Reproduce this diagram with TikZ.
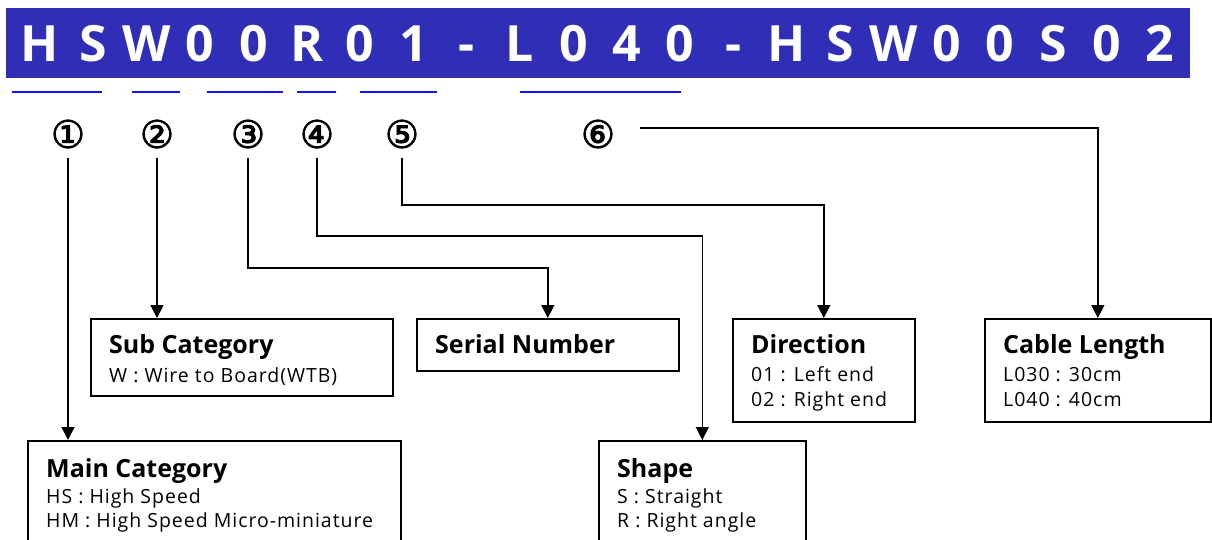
\documentclass[tikz,border=0pt]{standalone}
\usepackage{fontspec}
\setmainfont{Open Sans}
\newfontfamily\bodyfont{Open Sans}[LetterSpace=5]
\newfontfamily\circfont{DejaVu Sans}[FakeBold=2]
\usetikzlibrary{arrows.meta}
\definecolor{headblue}{RGB}{48,46,182}
\definecolor{lineblue}{RGB}{20,20,235}
\tikzset{
  box/.style={draw=black, line width=1.6pt, anchor=north west, inner sep=0pt},
  ttl/.style={font=\fontsize{25}{28}\selectfont\bfseries, anchor=base west, inner sep=0pt},
  bdy/.style={font=\bodyfont\fontsize{19.5}{24}\selectfont, anchor=base west, inner sep=0pt, align=left},
  num/.style={font=\circfont\fontsize{38}{38}\selectfont, inner sep=0pt},
  hch/.style={font=\fontsize{50}{50}\selectfont\bfseries, text=white, inner sep=0pt, anchor=base},
  arr/.style={line width=1.5pt, -{Triangle[length=13pt,width=13pt]}},
  uline/.style={lineblue, line width=2.8pt}
}
\begin{document}
\begin{tikzpicture}[x=1pt,y=-1pt]
\useasboundingbox (0,0) rectangle (1212,540);
\clip (0,0) rectangle (1212,540);
% header
\fill[headblue] (6,8) rectangle (1190,78);
\foreach \c [count=\i] in {H,S,W,0,0,R,0,1,-,L,0,4,0,-,H,S,W,0,0,S,0,2}{
  \node[hch] (h\i) at ({40+53.33*(\i-1)},62) {\c};
}
% underlines
\draw[uline] (12,92) -- (102,92);
\draw[uline] (132,92) -- (180,92);
\draw[uline] (207,92) -- (283,92);
\draw[uline] (297,92) -- (336,92);
\draw[uline] (360,92) -- (437,92);
\draw[uline] (520,92) -- (681,92);
% circled numbers
\node[num] (n1) at (68,134) {①};
\node[num] (n2) at (157,134) {②};
\node[num] (n3) at (248,134) {③};
\node[num] (n4) at (317,134) {④};
\node[num] (n5) at (402,134) {⑤};
\node[num] (n6) at (598,134) {⑥};
% boxes
\node[box, minimum width=302pt, minimum height=77pt] (sub) at (90,318) {};
\node[ttl] at ([shift={(19pt,-35pt)}]sub.north west) {Sub Category};
\node[bdy] at ([shift={(19pt,-64pt)}]sub.north west) {W : Wire to Board(WTB)};

\node[box, minimum width=262pt, minimum height=52pt] (ser) at (416,318) {};
\node[ttl] at ([shift={(19pt,-35pt)}]ser.north west) {Serial Number};

\node[box, minimum width=182pt, minimum height=103pt] (dir) at (732,318) {};
\node[ttl] at ([shift={(19pt,-35pt)}]dir.north west) {Direction};
\node[bdy] at ([shift={(19pt,-63pt)}]dir.north west) {01 : Left end};
\node[bdy] at ([shift={(19pt,-88pt)}]dir.north west) {02 : Right end};

\node[box, minimum width=226pt, minimum height=103pt] (cab) at (984,318) {};
\node[ttl] at ([shift={(19pt,-35pt)}]cab.north west) {Cable Length};
\node[bdy] at ([shift={(19pt,-63pt)}]cab.north west) {L030 : 30cm};
\node[bdy] at ([shift={(19pt,-88pt)}]cab.north west) {L040 : 40cm};

\node[box, minimum width=373pt, minimum height=110pt] (main) at (27,440) {};
\node[ttl] at ([shift={(19pt,-37pt)}]main.north west) {Main Category};
\node[bdy] at ([shift={(19pt,-63pt)}]main.north west) {HS : High Speed};
\node[bdy] at ([shift={(19pt,-87pt)}]main.north west) {HM : High Speed Micro-miniature};

\node[box, minimum width=207pt, minimum height=110pt] (shp) at (598,440) {};
\node[ttl] at ([shift={(19pt,-37pt)}]shp.north west) {Shape};
\node[bdy] at ([shift={(19pt,-63pt)}]shp.north west) {S : Straight};
\node[bdy] at ([shift={(19pt,-87pt)}]shp.north west) {R : Right angle};
% connectors
\draw[arr] ([yshift=-24pt]n1.center) -- (n1 |- main.north);
\draw[arr] ([yshift=-24pt]n2.center) -- (n2 |- sub.north);
\draw[arr] ([yshift=-24pt]n3.center) |- ([yshift=50pt]ser.north) -- (ser.north);
\draw[arr] ([yshift=-24pt]n4.center) |- ([yshift=204pt]shp.north) -- (shp.north);
\draw[arr] ([yshift=-24pt]n5.center) |- ([yshift=113pt]dir.north) -- (dir.north);
\draw[arr] ([xshift=42pt,yshift=6pt]n6.center) -| (cab.north);
\end{tikzpicture}
\end{document}
